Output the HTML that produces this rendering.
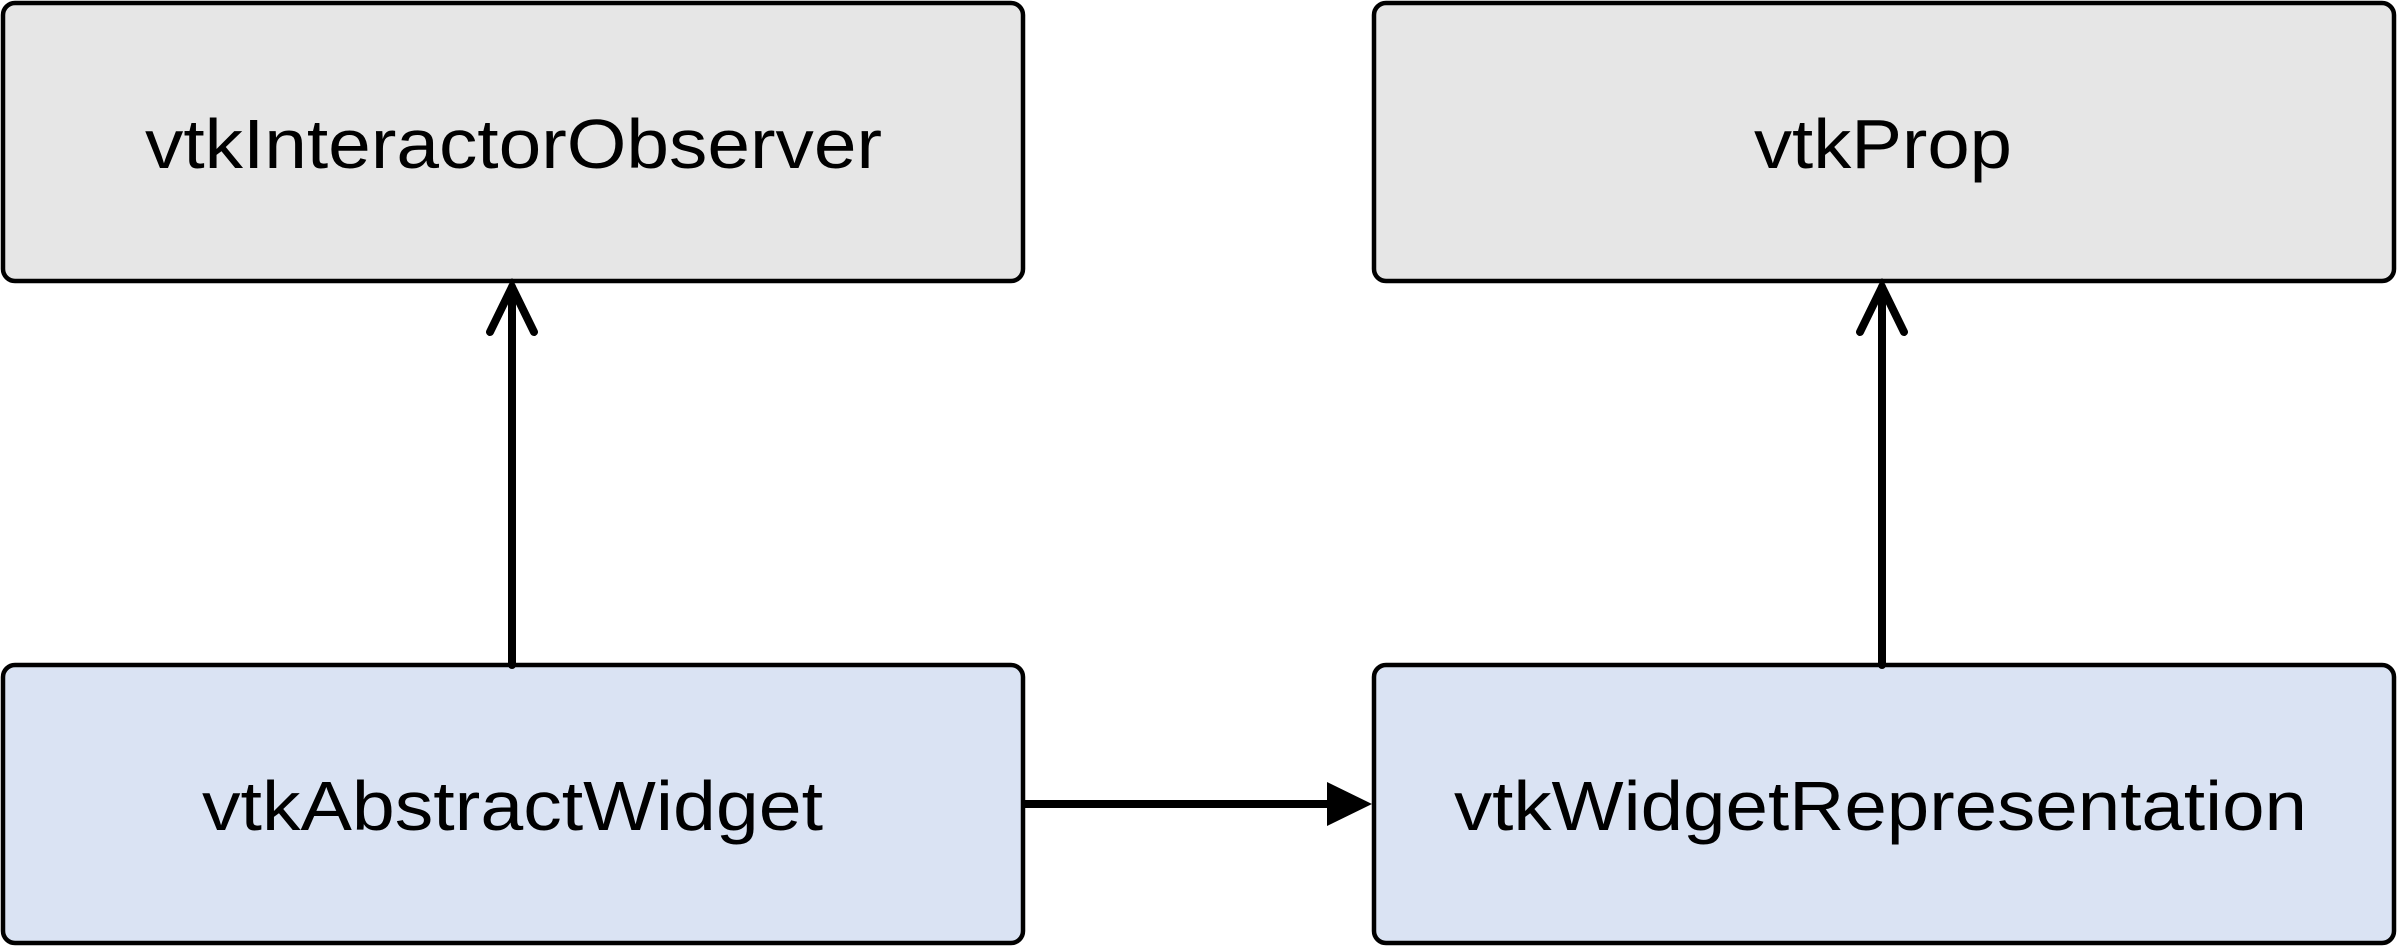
<!DOCTYPE html>
<html><head><style>html,body{margin:0;padding:0;background:#fff}svg{display:block}</style></head>
<body>
<svg width="2398" height="947" viewBox="0 0 2398 947" xmlns="http://www.w3.org/2000/svg">
<g stroke="#000" stroke-width="4.5">
<rect x="3" y="3" width="1020" height="278" rx="12" fill="#e6e6e6"/>
<rect x="1374" y="3" width="1020" height="278" rx="12" fill="#e6e6e6"/>
<rect x="3" y="665" width="1020" height="278" rx="12" fill="#dae3f3"/>
<rect x="1374" y="665" width="1020" height="278" rx="12" fill="#dae3f3"/>
</g>
<g stroke="#000" stroke-width="8" fill="none" stroke-linecap="round">
<line x1="512" y1="665" x2="512" y2="287"/>
<polyline points="490,332 512,287 534,332"/>
<line x1="1882" y1="665" x2="1882" y2="287"/>
<polyline points="1860,332 1882,287 1904,332"/>
<line x1="1025" y1="804" x2="1330" y2="804" stroke-linecap="butt"/>
</g>
<polygon points="1327,782 1372,804 1327,826" fill="#000"/>
<g font-family="Liberation Sans, sans-serif" font-size="70" fill="#000">
<text x="145" y="168" textLength="737" lengthAdjust="spacingAndGlyphs">vtkInteractorObserver</text>
<text x="1754" y="168" textLength="258" lengthAdjust="spacingAndGlyphs">vtkProp</text>
<text x="202" y="830" textLength="621" lengthAdjust="spacingAndGlyphs">vtkAbstractWidget</text>
<text x="1454" y="830" textLength="853" lengthAdjust="spacingAndGlyphs">vtkWidgetRepresentation</text>
</g>
</svg>
</body></html>
